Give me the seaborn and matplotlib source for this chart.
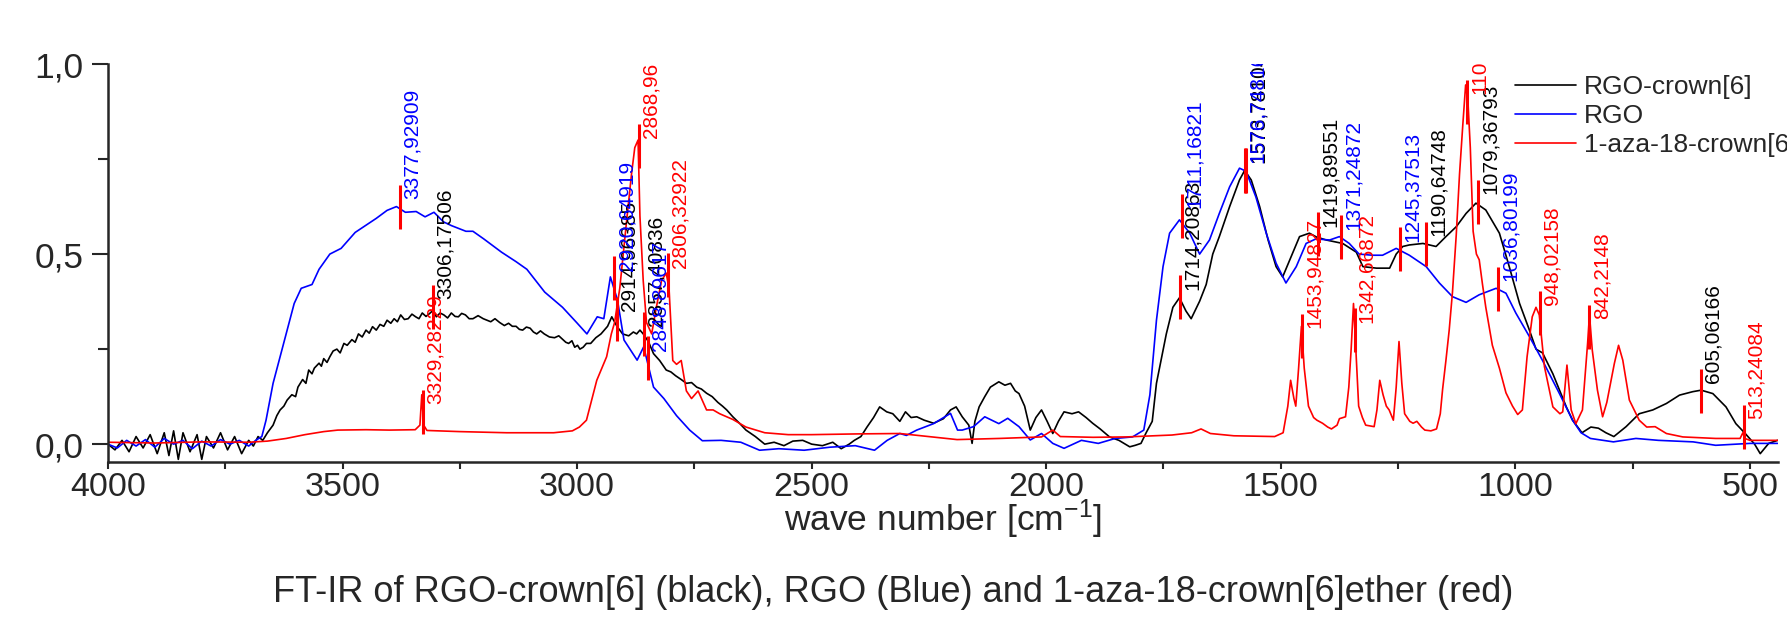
import numpy as np
import pandas as pd
import matplotlib
matplotlib.use("Agg")
import matplotlib.pyplot as plt
import matplotlib.transforms as mtransforms
from matplotlib.ticker import MultipleLocator, FuncFormatter
import seaborn as sns

# ---------------------------------------------------------
# Data (wave number in cm-1, absorbance)
# ---------------------------------------------------------
crown_wn = [4000, 3985, 3970, 3955, 3940, 3925, 3910, 3895, 3880, 3870, 3860, 3850,
            3840, 3825, 3810, 3800, 3790, 3775, 3760, 3745, 3730, 3715, 3700, 3690,
            3680, 3670, 3660, 3648, 3640, 3633, 3625, 3618, 3608, 3600, 3595, 3585,
            3578, 3572, 3565, 3560, 3550, 3545, 3540, 3533, 3527, 3520, 3512, 3505,
            3497, 3490, 3480, 3473, 3466, 3458, 3450, 3443, 3436, 3428, 3420, 3412,
            3405, 3397, 3390, 3383, 3376, 3368, 3360, 3352, 3344, 3337, 3330, 3322,
            3314, 3307, 3300, 3292, 3284, 3276, 3268, 3260, 3253, 3246, 3238, 3230,
            3222, 3211, 3200, 3192, 3184, 3175, 3165, 3155, 3146, 3138, 3130, 3123,
            3116, 3108, 3100, 3093, 3086, 3078, 3070, 3059, 3048, 3039, 3030, 3024,
            3018, 3011, 3005, 2999, 2994, 2987, 2980, 2971, 2960, 2949, 2935, 2926,
            2915, 2903, 2890, 2880, 2873, 2866, 2859, 2848, 2837, 2824, 2810, 2800,
            2790, 2778, 2767, 2756, 2745, 2735, 2724, 2712, 2700, 2690, 2681, 2668,
            2653, 2640, 2620, 2600, 2580, 2559, 2540, 2519, 2500, 2477, 2455, 2437,
            2420, 2409, 2395, 2382, 2368, 2355, 2340, 2327, 2312, 2300, 2288, 2276,
            2260, 2240, 2219, 2204, 2192, 2179, 2165, 2158, 2152, 2143, 2131, 2119,
            2101, 2088, 2076, 2066, 2058, 2046, 2034, 2022, 2010, 1998, 1986, 1974,
            1962, 1945, 1931, 1915, 1901, 1885, 1865, 1845, 1822, 1810, 1798, 1787,
            1774, 1765, 1744, 1730, 1716, 1702, 1691, 1673, 1659, 1645, 1631, 1609,
            1588, 1577, 1563, 1545, 1527, 1510, 1496, 1481, 1460, 1439, 1424, 1403,
            1368, 1339, 1325, 1296, 1268, 1254, 1240, 1226, 1197, 1169, 1148, 1126,
            1105, 1084, 1063, 1034, 1013, 991, 970, 956, 942, 920, 891, 878, 858,
            839, 823, 807, 790, 764, 736, 707, 678, 650, 622, 604, 579, 551, 530,
            510, 490, 478, 460, 441]
crown_abs = [0.0, -0.015, 0.01, -0.02, 0.02, -0.01, 0.025, -0.025, 0.03, -0.03, 0.035, -0.04,
             0.03, -0.02, 0.025, -0.04, 0.02, -0.01, 0.03, -0.015, 0.02, -0.025, 0.01, -0.005,
             0.02, 0.01, 0.03, 0.05, 0.075, 0.09, 0.1, 0.116, 0.13, 0.125, 0.15, 0.17,
             0.16, 0.195, 0.185, 0.2, 0.213, 0.205, 0.225, 0.215, 0.23, 0.245, 0.25, 0.24,
             0.265, 0.26, 0.275, 0.268, 0.29, 0.282, 0.3, 0.292, 0.309, 0.3, 0.315, 0.31,
             0.326, 0.318, 0.33, 0.322, 0.34, 0.328, 0.33, 0.342, 0.335, 0.33, 0.345, 0.336,
             0.344, 0.352, 0.335, 0.345, 0.34, 0.332, 0.345, 0.336, 0.335, 0.344, 0.34, 0.33,
             0.33, 0.338, 0.33, 0.326, 0.322, 0.33, 0.32, 0.312, 0.318, 0.31, 0.31, 0.302,
             0.3, 0.308, 0.305, 0.295, 0.29, 0.298, 0.29, 0.282, 0.28, 0.285, 0.275, 0.268,
             0.265, 0.272, 0.255, 0.26, 0.25, 0.255, 0.265, 0.265, 0.28, 0.29, 0.31, 0.335,
             0.31, 0.29, 0.285, 0.295, 0.29, 0.3, 0.29, 0.27, 0.238, 0.22, 0.195, 0.19,
             0.18, 0.17, 0.16, 0.162, 0.15, 0.145, 0.134, 0.125, 0.11, 0.1, 0.09, 0.072,
             0.054, 0.037, 0.02, 0.0, 0.005, -0.004, 0.008, 0.01, 0.0, -0.004, 0.005, -0.012,
             0.0, 0.01, 0.02, 0.045, 0.07, 0.098, 0.085, 0.08, 0.06, 0.085, 0.07, 0.072,
             0.063, 0.055, 0.067, 0.09, 0.098, 0.072, 0.05, 0.002, 0.06, 0.098, 0.125, 0.15,
             0.164, 0.155, 0.16, 0.14, 0.133, 0.1, 0.037, 0.07, 0.09, 0.06, 0.028, 0.06,
             0.085, 0.08, 0.085, 0.07, 0.055, 0.04, 0.019, 0.01, -0.007, -0.003, 0.002, 0.03,
             0.06, 0.16, 0.29, 0.36, 0.385, 0.35, 0.33, 0.376, 0.42, 0.5, 0.546, 0.625,
             0.695, 0.72, 0.695, 0.625, 0.537, 0.467, 0.44, 0.484, 0.546, 0.555, 0.545, 0.537,
             0.528, 0.505, 0.467, 0.463, 0.463, 0.5, 0.52, 0.524, 0.528, 0.52, 0.546, 0.572,
             0.607, 0.634, 0.616, 0.555, 0.467, 0.37, 0.3, 0.25, 0.24, 0.185, 0.097, 0.063, 0.03,
             0.045, 0.042, 0.03, 0.02, 0.046, 0.08, 0.09, 0.107, 0.129, 0.138, 0.142, 0.133, 0.098, 0.054,
             0.028, 0.0, -0.025, 0.002, 0.01]

rgo_wn = [4000, 3980, 3960, 3940, 3920, 3900, 3880, 3860, 3840, 3820, 3800, 3780,
          3760, 3740, 3720, 3700, 3685, 3672, 3663, 3648, 3633, 3618, 3603, 3588,
          3565, 3550, 3527, 3503, 3473, 3450, 3428, 3405, 3385, 3366, 3343, 3324,
          3305, 3285, 3268, 3237, 3222, 3199, 3161, 3130, 3107, 3069, 3031, 3001,
          2979, 2957, 2943, 2929, 2914, 2900, 2872, 2858, 2837, 2815, 2788, 2760,
          2733, 2693, 2651, 2611, 2570, 2516, 2461, 2407, 2366, 2339, 2312, 2298,
          2276, 2240, 2204, 2189, 2179, 2155, 2131, 2101, 2082, 2058, 2034, 2010,
          1986, 1962, 1925, 1889, 1853, 1816, 1792, 1779, 1765, 1751, 1737, 1716,
          1694, 1673, 1652, 1631, 1609, 1588, 1574, 1553, 1531, 1510, 1489, 1467,
          1446, 1425, 1396, 1375, 1354, 1333, 1305, 1283, 1254, 1226, 1190, 1162,
          1134, 1105, 1077, 1041, 1020, 999, 970, 942, 906, 878, 860, 840, 791, 743,
          695, 621, 573, 500, 441]
rgo_abs = [0.0, -0.01, 0.01, -0.005, 0.012, -0.008, 0.015, 0.0, 0.01, -0.012, 0.008, -0.005,
           0.012, 0.0, 0.01, -0.005, 0.01, 0.02, 0.063, 0.16, 0.23, 0.3, 0.37, 0.41,
           0.42, 0.46, 0.5, 0.515, 0.557, 0.576, 0.594, 0.615, 0.625, 0.61, 0.612, 0.598,
           0.61, 0.585, 0.575, 0.56, 0.56, 0.54, 0.505, 0.48, 0.46, 0.4, 0.36, 0.32,
           0.29, 0.335, 0.33, 0.44, 0.38, 0.274, 0.221, 0.256, 0.15, 0.12, 0.075, 0.037,
           0.009, 0.01, 0.005, -0.016, -0.012, -0.016, -0.008, -0.004, -0.016, 0.01, 0.028, 0.023,
           0.037, 0.054, 0.081, 0.037, 0.037, 0.046, 0.072, 0.054, 0.068, 0.046, 0.011, 0.028,
           0.002, -0.011, 0.01, 0.002, 0.015, 0.019, 0.037, 0.13, 0.326, 0.467, 0.555, 0.59,
           0.555, 0.5, 0.537, 0.607, 0.677, 0.726, 0.718, 0.65, 0.555, 0.476, 0.424, 0.467,
           0.528, 0.54, 0.537, 0.546, 0.528, 0.5, 0.497, 0.497, 0.515, 0.497, 0.467, 0.424,
           0.388, 0.373, 0.393, 0.41, 0.397, 0.345, 0.283, 0.22, 0.133, 0.063, 0.03, 0.015,
           0.006, 0.015, 0.01, 0.006, -0.003, 0.002, 0.002]

aza_wn = [4000, 3900, 3800, 3700, 3660, 3620, 3580, 3540, 3510, 3450, 3400, 3345,
          3335, 3331, 3327, 3320, 3250, 3150, 3050, 3010, 2995, 2980, 2958, 2937,
          2927, 2920, 2909, 2895, 2884, 2877, 2870, 2866, 2859, 2852, 2841, 2831,
          2820, 2810, 2804, 2796, 2788, 2778, 2767, 2756, 2742, 2724, 2710, 2696,
          2668, 2640, 2600, 2550, 2500, 2400, 2312, 2250, 2190, 2100, 2010, 1986,
          1970, 1900, 1829, 1732, 1690, 1670, 1650, 1600, 1513, 1495, 1485, 1479,
          1472, 1468, 1462, 1456, 1450, 1441, 1430, 1423, 1411, 1400, 1392, 1380,
          1375, 1362, 1355, 1350, 1345, 1340, 1334, 1326, 1319, 1301, 1295, 1289,
          1282, 1275, 1269, 1260, 1254, 1248, 1242, 1236, 1225, 1218, 1210, 1200,
          1193, 1180, 1168, 1160, 1155, 1148, 1141, 1134, 1126, 1119, 1112, 1106,
          1101, 1096, 1090, 1083, 1077, 1070, 1063, 1049, 1034, 1020, 1006, 995,
          985, 975, 964, 956, 949, 938, 920, 905, 899, 890, 881, 871, 857, 846,
          842, 836, 825, 814, 805, 800, 789, 780, 771, 757, 736, 720, 702, 678,
          643, 573, 521, 515, 511, 500, 441]
aza_abs = [0.005, 0.003, 0.006, 0.005, 0.008, 0.015, 0.025, 0.033, 0.037, 0.038, 0.037, 0.038,
           0.05, 0.13, 0.05, 0.036, 0.033, 0.03, 0.03, 0.035, 0.045, 0.063, 0.168, 0.23,
           0.29, 0.32, 0.41, 0.58, 0.71, 0.78, 0.8, 0.6, 0.43, 0.32, 0.29, 0.36,
           0.43, 0.45, 0.41, 0.22, 0.21, 0.22, 0.14, 0.12, 0.14, 0.09, 0.09, 0.08,
           0.065, 0.045, 0.03, 0.025, 0.025, 0.027, 0.028, 0.02, 0.012, 0.015, 0.019, 0.037,
           0.02, 0.018, 0.019, 0.024, 0.03, 0.04, 0.028, 0.022, 0.02, 0.03, 0.1, 0.168,
           0.12, 0.1, 0.2, 0.31, 0.2, 0.1, 0.07, 0.063, 0.055, 0.045, 0.04, 0.05,
           0.067, 0.072, 0.15, 0.25, 0.37, 0.25, 0.1, 0.07, 0.05, 0.046, 0.09, 0.168,
           0.13, 0.1, 0.09, 0.063, 0.15, 0.27, 0.16, 0.08, 0.06, 0.055, 0.06, 0.045,
           0.037, 0.035, 0.04, 0.08, 0.145, 0.22, 0.3, 0.4, 0.55, 0.71, 0.84, 0.945,
           0.9, 0.78, 0.56, 0.5, 0.485, 0.42, 0.36, 0.26, 0.2, 0.135, 0.1, 0.078,
           0.09, 0.23, 0.335, 0.36, 0.34, 0.204, 0.098, 0.08, 0.085, 0.208, 0.09, 0.054, 0.09, 0.265,
           0.34, 0.247, 0.142, 0.072, 0.11, 0.142, 0.212, 0.26, 0.221, 0.116, 0.063, 0.045, 0.046, 0.028,
           0.019, 0.015, 0.015, 0.03, 0.015, 0.01, 0.01]

# peak labels (text = wave number) and the height of the marker at each peak
crown_peak_labels = ["3306,17506", "2914,96385", "2857,40836", "1714,20863", "1573,78104",
                     "1419,89551", "1190,64748", "1079,36793", "605,06166"]
crown_peak_heights = [0.361, 0.33, 0.29, 0.386, 0.72, 0.552, 0.527, 0.638, 0.14]
rgo_peak_labels = ["3377,92909", "2920,64919", "2848,89617", "1711,16821", "1576,74816",
                   "1371,24872", "1245,37513", "1036,80199"]
rgo_peak_heights = [0.625, 0.436, 0.226, 0.60, 0.72, 0.544, 0.513, 0.408]
aza_peak_labels = ["3329,28229", "2868,96041", "2806,32922", "1453,94827", "1342,66872",
                   "1103,10582", "948,02158", "842,2148", "513,24084"]
aza_peak_heights = [0.085, 0.785, 0.444, 0.285, 0.30, 0.90, 0.345, 0.309, 0.045]

series = [
    ("RGO-crown[6]", crown_wn, crown_abs, crown_peak_labels, crown_peak_heights, "black"),
    ("RGO", rgo_wn, rgo_abs, rgo_peak_labels, rgo_peak_heights, "#0000ff"),
    ("1-aza-18-crown[6]ether", aza_wn, aza_abs, aza_peak_labels, aza_peak_heights, "#ff0000"),
]

# ---------------------------------------------------------
# Style
# ---------------------------------------------------------
sns.set_style("ticks")
plt.rcParams["font.family"] = ["Liberation Sans", "DejaVu Sans"]
plt.rcParams["mathtext.default"] = "regular"

fig = plt.figure(figsize=(17.87, 6.18), dpi=100)
ax = fig.add_axes([0.0604, 0.2524, 0.9346, 0.644])

for name, wn, ab, labels, heights, color in series:
    df = pd.DataFrame({"wn": wn, "abs": ab})
    sns.lineplot(data=df, x="wn", y="abs", color=color, lw=1.2, sort=False,
                 estimator=None, label=name, ax=ax)

# peak markers (always red) and rotated labels in the series colour
label_offset = mtransforms.offset_copy(ax.transData, fig=fig, x=2, y=0, units="points")
for name, wn, ab, labels, heights, color in series:
    for txt, h in zip(labels, heights):
        x = float(txt.replace(",", "."))
        ax.vlines(x, h - 0.058, h + 0.058, color="#ff0000", lw=2.2, zorder=3)
        ax.text(x, h + 0.02, txt, rotation=90, ha="left", va="bottom", color=color,
                fontsize=15, transform=label_offset, clip_on=True, zorder=4)

ax.set_xlim(4000, 440)
ax.set_ylim(-0.047, 1.0)
ax.xaxis.set_major_locator(MultipleLocator(500))
ax.xaxis.set_minor_locator(MultipleLocator(250))
ax.yaxis.set_major_locator(MultipleLocator(0.5))
ax.yaxis.set_minor_locator(MultipleLocator(0.25))
ax.yaxis.set_major_formatter(FuncFormatter(lambda v, p: f"{v:.1f}".replace(".", ",")))

sns.despine(ax=ax)
for side in ["left", "bottom"]:
    ax.spines[side].set_linewidth(1.8)
ax.tick_params(axis="x", which="both", direction="out", length=5, width=1.5,
               labelsize=24.5, pad=2)
ax.tick_params(axis="y", which="major", direction="out", length=11.5, width=1.5,
               labelsize=25.5, pad=6)
ax.tick_params(axis="y", which="minor", direction="out", length=7, width=1.5)

ax.set_xlabel("wave number [cm$^{-1}$]", fontsize=25.5, labelpad=-4)
ax.set_ylabel("")

ax.legend(loc="upper left", bbox_to_anchor=(0.848, 0.879), bbox_transform=fig.transFigure,
          frameon=False, fontsize=19, handlelength=2.3, handletextpad=0.3,
          labelspacing=0.2, borderpad=0, borderaxespad=0)

fig.text(0.5, 0.042, "FT-IR of RGO-crown[6] (black), RGO (Blue) and 1-aza-18-crown[6]ether (red)",
         ha="center", va="center", fontsize=26)

fig.savefig("out.png", dpi=100)
